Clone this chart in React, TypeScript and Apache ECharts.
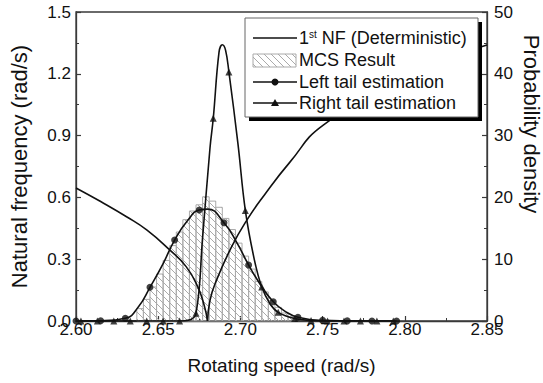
import React, { useEffect, useRef } from 'react';
import * as echarts from 'echarts';

// ---- axes ----
const X_MIN = 2.6, X_MAX = 2.85, X_STEP = 0.05;
const FREQ_MIN = 0, FREQ_MAX = 1.5, FREQ_STEP = 0.3;
const DENS_MIN = 0, DENS_MAX = 50, DENS_STEP = 10;

// ---- 1st NF (deterministic), two branches meeting at the critical speed ----
const nfLeftX = [2.600, 2.615, 2.631, 2.643, 2.657, 2.667, 2.674, 2.678, 2.680];
const nfLeftY = [0.646, 0.580, 0.505, 0.442, 0.345, 0.264, 0.167, 0.075, 0.0];
const nfRightX = [2.680, 2.6815, 2.6847, 2.6947, 2.7046, 2.7146, 2.730, 2.7504, 2.800, 2.850];
const nfRightY = [0.0, 0.10, 0.183, 0.361, 0.498, 0.612, 0.770, 0.951, 1.180, 1.340];

// ---- MCS histogram (probability density) ----
const mcsBinWidth = 0.004;
const mcsBinCenters = [2.639, 2.643, 2.647, 2.651, 2.655, 2.659, 2.663, 2.667, 2.671, 2.675, 2.679, 2.683,
  2.687, 2.691, 2.695, 2.699, 2.703, 2.707, 2.711, 2.715, 2.719, 2.723, 2.727, 2.731];
const mcsDensity = [2.0, 3.5, 5.5, 7.6, 9.8, 12.2, 14.4, 16.4, 17.8, 18.8, 20.1, 19.4,
  18.4, 16.6, 14.8, 12.6, 10.5, 8.4, 6.4, 4.7, 3.3, 2.2, 1.3, 0.7];

// ---- Left tail estimation ----
const leftCurveX = [2.600, 2.615, 2.630, 2.638, 2.645, 2.653, 2.660, 2.668, 2.675, 2.680, 2.690, 2.698,
  2.705, 2.713, 2.720, 2.727, 2.735, 2.750, 2.765, 2.780, 2.795];
const leftCurveY = [0, 0.05, 0.45, 2.3, 5.45, 9.3, 13.1, 16.3, 17.96, 18.1, 15.9, 12.6,
  9.06, 5.55, 3.12, 1.6, 0.6, 0.1, 0.02, 0, 0];
const leftMarkX = [2.600, 2.615, 2.630, 2.645, 2.660, 2.675, 2.690, 2.705, 2.720, 2.735, 2.750, 2.765, 2.780, 2.795];
const leftMarkY = [0, 0.05, 0.45, 5.45, 13.1, 17.96, 15.9, 9.06, 3.12, 0.6, 0.1, 0.02, 0, 0];

// ---- Right tail estimation ----
const rightCurveX = [2.603, 2.613, 2.623, 2.633, 2.643, 2.653, 2.663, 2.668, 2.673, 2.677, 2.6815, 2.6835,
  2.687, 2.689, 2.691, 2.693, 2.6985, 2.703, 2.7085, 2.713, 2.718, 2.723, 2.733, 2.743, 2.753, 2.763,
  2.773, 2.783, 2.793];
const rightCurveY = [0, 0, 0, 0, 0, 0, 0, 0.1, 1.25, 13.5, 28.0, 32.8,
  43.5, 44.7, 43.8, 40.3, 28.7, 17.9, 9.9, 5.5, 2.8, 1.4, 0.4, 0.1, 0, 0,
  0, 0, 0];
const rightMarkX = [2.603, 2.613, 2.623, 2.633, 2.643, 2.653, 2.663, 2.673, 2.6835, 2.693, 2.703, 2.713,
  2.723, 2.733, 2.743, 2.753, 2.763, 2.773, 2.783, 2.793];
const rightMarkY = [0, 0, 0, 0, 0, 0, 0, 1.25, 32.8, 40.3, 17.9, 5.5,
  1.4, 0.4, 0.1, 0, 0, 0, 0, 0];

// ---- texts ----
const X_NAME = 'Rotating speed (rad/s)';
const Y_LEFT_NAME = 'Natural frequency (rad/s)';
const Y_RIGHT_NAME = 'Probability density';
const LEGEND_NF = '{a|1}{s|st}{a| NF (Deterministic)}';
const LEGEND_MCS = 'MCS Result';
const LEGEND_LEFT = 'Left tail estimation';
const LEGEND_RIGHT = 'Right tail estimation';

const FONT = '"Liberation Sans", Arial, Helvetica, sans-serif';
const INK = '#111';
const AXIS = '#3a3a3a';

const zip = (xs: number[], ys: number[]) => xs.map((x, i) => [x, ys[i]]);

function makeHatch() {
  const cv = document.createElement('canvas');
  cv.width = 7;
  cv.height = 7;
  const ctx = cv.getContext('2d')!;
  ctx.strokeStyle = '#aaaaaa';
  ctx.lineWidth = 1;
  ctx.beginPath();
  ctx.moveTo(-1, -1); ctx.lineTo(8, 8);
  ctx.moveTo(-1, 6); ctx.lineTo(1, 8);
  ctx.moveTo(6, -1); ctx.lineTo(8, 1);
  ctx.stroke();
  return { image: cv, repeat: 'repeat' } as any;
}

export default function App() {
  const ref = useRef<HTMLDivElement>(null);

  useEffect(() => {
    if (!ref.current) return;
    const chart = echarts.init(ref.current, undefined, { renderer: 'svg' });
    const hatch = makeHatch();

    const valueAxisCommon = {
      axisLine: { show: true, lineStyle: { color: AXIS, width: 1.3 } },
      axisTick: { show: true, inside: true, length: 5, lineStyle: { color: AXIS, width: 1.2 } },
      minorTick: { show: true, splitNumber: 2, length: 3, lineStyle: { color: AXIS, width: 1 } },
      splitLine: { show: false },
      minorSplitLine: { show: false },
    };

    const lineStyle = { color: INK, width: 1.6 };
    const LZ = 100;

    const option: any = {
      animation: false,
      textStyle: { fontFamily: FONT },
      grid: {
        left: 68, right: 56, top: 12, bottom: 62,
        show: true, borderColor: AXIS, borderWidth: 1.3, backgroundColor: 'transparent',
      },
      xAxis: {
        type: 'value', min: X_MIN, max: X_MAX, interval: X_STEP,
        ...valueAxisCommon,
        axisLabel: { formatter: (v: number) => v.toFixed(2), color: INK, fontSize: 17, margin: 0, fontFamily: FONT },
        name: X_NAME, nameLocation: 'middle', nameGap: 35,
        nameTextStyle: { fontSize: 19, color: INK, fontFamily: FONT },
      },
      yAxis: [
        {
          type: 'value', min: FREQ_MIN, max: FREQ_MAX, interval: FREQ_STEP,
          ...valueAxisCommon,
          axisLabel: { formatter: (v: number) => v.toFixed(1), color: INK, fontSize: 17, margin: 5, fontFamily: FONT },
          name: Y_LEFT_NAME, nameLocation: 'middle', nameGap: 46,
          nameTextStyle: { fontSize: 22, color: INK, fontFamily: FONT },
        },
        {
          type: 'value', min: DENS_MIN, max: DENS_MAX, interval: DENS_STEP, position: 'right',
          ...valueAxisCommon,
          axisLabel: { formatter: (v: number) => String(v), color: INK, fontSize: 17, margin: 7, fontFamily: FONT },
        },
      ],
      series: [
        {
          name: LEGEND_MCS,
          type: 'custom',
          xAxisIndex: 0, yAxisIndex: 1,
          z: 1,
          data: zip(mcsBinCenters, mcsDensity),
          renderItem: (params: any, api: any) => {
            const c = api.value(0);
            const h = api.value(1);
            const p0 = api.coord([c - mcsBinWidth / 2, h]);
            const p1 = api.coord([c + mcsBinWidth / 2, 0]);
            return {
              type: 'rect',
              shape: { x: p0[0], y: p0[1], width: p1[0] - p0[0], height: p1[1] - p0[1] },
              style: { fill: hatch, stroke: '#aaaaaa', lineWidth: 1 },
            };
          },
        },
        {
          name: 'nf-left', type: 'line', yAxisIndex: 0, smooth: true, showSymbol: false,
          data: zip(nfLeftX, nfLeftY), lineStyle, z: 5,
        },
        {
          name: 'nf-right', type: 'line', yAxisIndex: 0, smooth: true, showSymbol: false,
          data: zip(nfRightX, nfRightY), lineStyle, z: 5,
        },
        {
          name: 'left-curve', type: 'line', yAxisIndex: 1, smooth: true, showSymbol: false,
          data: zip(leftCurveX, leftCurveY), lineStyle, z: 4,
        },
        {
          name: 'left-marks', type: 'scatter', yAxisIndex: 1, symbol: 'circle', symbolSize: 7,
          itemStyle: { color: INK }, data: zip(leftMarkX, leftMarkY), z: 6,
        },
        {
          name: 'right-curve', type: 'line', yAxisIndex: 1, smooth: 0.4, showSymbol: false,
          data: zip(rightCurveX, rightCurveY), lineStyle, z: 4,
        },
        {
          name: 'right-marks', type: 'scatter', yAxisIndex: 1, symbol: 'triangle', symbolSize: 7,
          itemStyle: { color: INK }, data: zip(rightMarkX, rightMarkY), z: 6,
        },
      ],
      graphic: [
        {
          type: 'text', x: 531, y: 124, rotation: -Math.PI / 2, z: 10,
          style: { text: Y_RIGHT_NAME, fontSize: 22, fill: INK, fontFamily: FONT, align: 'center', verticalAlign: 'middle' },
        },
        { type: 'rect', z: LZ, shape: { x: 249, y: 22, width: 233, height: 99 }, style: { fill: '#000' } },
        { type: 'rect', z: LZ + 1, shape: { x: 245, y: 18, width: 233, height: 99 }, style: { fill: '#fff', stroke: '#666', lineWidth: 1 } },
        // row 1
        { type: 'line', z: LZ + 2, shape: { x1: 253, y1: 38, x2: 297, y2: 38 }, style: { stroke: INK, lineWidth: 1.5 } },
        {
          type: 'text', z: LZ + 2, x: 299, y: 38,
          style: {
            text: LEGEND_NF, verticalAlign: 'middle', fill: INK, fontFamily: FONT,
            rich: {
              a: { fontSize: 18, fontFamily: FONT, fill: INK, verticalAlign: 'bottom' },
              s: { fontSize: 10, fontFamily: FONT, fill: INK, verticalAlign: 'top' },
            },
          },
        },
        // row 2
        { type: 'rect', z: LZ + 2, shape: { x: 253, y: 54, width: 43, height: 13 }, style: { fill: hatch, stroke: '#aaaaaa', lineWidth: 1 } },
        { type: 'text', z: LZ + 2, x: 299, y: 60, style: { text: LEGEND_MCS, fontSize: 18, fill: INK, fontFamily: FONT, verticalAlign: 'middle' } },
        // row 3
        { type: 'line', z: LZ + 2, shape: { x1: 253, y1: 82, x2: 297, y2: 82 }, style: { stroke: INK, lineWidth: 1.5 } },
        { type: 'circle', z: LZ + 3, shape: { cx: 275, cy: 82, r: 3.5 }, style: { fill: INK } },
        { type: 'text', z: LZ + 2, x: 299, y: 82, style: { text: LEGEND_LEFT, fontSize: 18, fill: INK, fontFamily: FONT, verticalAlign: 'middle' } },
        // row 4
        { type: 'line', z: LZ + 2, shape: { x1: 253, y1: 103, x2: 297, y2: 103 }, style: { stroke: INK, lineWidth: 1.5 } },
        { type: 'polygon', z: LZ + 3, shape: { points: [[275, 99], [279, 106], [271, 106]] }, style: { fill: INK } },
        { type: 'text', z: LZ + 2, x: 299, y: 103, style: { text: LEGEND_RIGHT, fontSize: 18, fill: INK, fontFamily: FONT, verticalAlign: 'middle' } },
      ],
    };

    chart.setOption(option);
    return () => chart.dispose();
  }, []);

  return (
    <div
      ref={ref}
      style={{ position: 'fixed', left: 0, top: 0, width: 543, height: 383, background: '#fff' }}
    />
  );
}
